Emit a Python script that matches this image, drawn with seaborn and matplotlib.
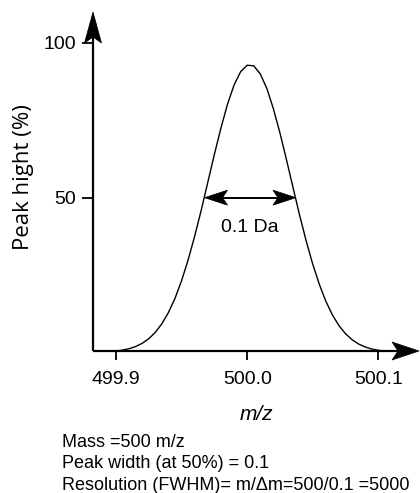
import numpy as np
import pandas as pd
import matplotlib
matplotlib.use("Agg")
import matplotlib.pyplot as plt
from matplotlib.patches import Polygon
import seaborn as sns

# ---- data ----
mz = [499.890, 499.895, 499.900, 499.905, 499.910, 499.915, 499.920, 499.925,
      499.930, 499.935, 499.940, 499.945, 499.950, 499.955, 499.960, 499.965,
      499.970, 499.975, 499.980, 499.985, 499.990, 499.995, 500.000, 500.005,
      500.010, 500.015, 500.020, 500.025, 500.030, 500.035, 500.040, 500.045,
      500.050, 500.055, 500.060, 500.065, 500.070, 500.075, 500.080, 500.085,
      500.090, 500.095, 500.100, 500.105, 500.110]
height = [0.15, 0.26, 0.44, 0.74, 1.20, 1.90, 2.94, 4.43,
          6.49, 9.27, 12.9, 17.5, 23.2, 29.9, 37.6, 46.0,
          55.0, 64.0, 72.5, 80.2, 86.4, 90.7, 92.8, 92.6,
          90.0, 85.3, 78.7, 70.9, 62.2, 53.2, 44.3, 36.0,
          28.5, 22.0, 16.5, 12.1, 8.65, 6.02, 4.09, 2.70,
          1.74, 1.09, 0.67, 0.40, 0.23]
x_ticks = [499.9, 500.0, 500.1]
x_tick_labels = ["499.9", "500.0", "500.1"]
y_ticks = [50, 100]
y_tick_labels = ["50", "100"]
fwhm_left, fwhm_right, fwhm_level = 499.9675, 500.0372, 50
fwhm_label = "0.1 Da"
x_label = "m/z"
y_label = "Peak hight (%)"
notes = ["Mass =500 m/z",
         "Peak width (at 50%) = 0.1",
         "Resolution (FWHM)= m/\u0394m=500/0.1 =5000"]

sns.set_style("white")
plt.rcParams['font.family'] = ['Liberation Sans', 'DejaVu Sans']
plt.rcParams['text.color'] = 'black'
plt.rcParams['axes.labelcolor'] = 'black'

W, H = 420, 493
fig = plt.figure(figsize=(W / 100, H / 100), dpi=100)
fig.patch.set_facecolor("white")

ax_l, ax_r, ax_t, ax_b = 93, 419, 12, 351
ax = fig.add_axes([ax_l / W, 1 - ax_b / H, (ax_r - ax_l) / W, (ax_b - ax_t) / H])
ax.set_facecolor("none")

df = pd.DataFrame({"mz": mz, "h": height})
sns.lineplot(data=df, x="mz", y="h", ax=ax, color="black", lw=1.0)

ax.set_xlim(499.88246, 500.1310)
ax.set_ylim(0.45, 110.0)
ax.set_xticks(x_ticks)
ax.set_xticklabels(x_tick_labels)
ax.set_yticks(y_ticks)
ax.set_yticklabels(y_tick_labels)
for s in ax.spines.values():
    s.set_visible(False)
ax.tick_params(axis="x", direction="out", length=6.5, width=1.3, pad=8,
               labelsize=14, bottom=True, colors="black")
ax.tick_params(axis="y", direction="out", length=8, width=1.3, pad=4,
               labelsize=14, left=True, colors="black")
ax.set_xlabel(x_label, fontsize=15, style="italic", labelpad=12, color="black")
ax.set_ylabel(y_label, fontsize=16, family=["Open Sans", "DejaVu Sans"],
              color="black")
ax.yaxis.set_label_coords(-0.181, 0.513)

# overlay in figure pixels for the axis arrows and annotation arrow
ov = fig.add_axes([0, 0, 1, 1])
ov.set_xlim(0, W)
ov.set_ylim(H, 0)
ov.axis("off")
ov.set_zorder(5)

def head(tip, direction, length, half, notch):
    tx, ty = tip
    dx, dy = direction
    px, py = -dy, dx
    bx, by = tx - dx * length, ty - dy * length
    nx, ny = tx - dx * (length - notch), ty - dy * (length - notch)
    return Polygon([(tx, ty), (bx + px * half, by + py * half), (nx, ny),
                    (bx - px * half, by - py * half)], closed=True,
                   facecolor="black", edgecolor="black", lw=0.5)

# y axis with arrow
ov.plot([ax_l, ax_l], [ax_b, ax_t + 20], color="black", lw=1.6, solid_capstyle="butt")
ov.add_patch(head((ax_l, ax_t), (0, -1), 31, 8.5, 6))
# x axis with arrow
ov.plot([ax_l, ax_r - 20], [ax_b, ax_b], color="black", lw=1.6, solid_capstyle="butt")
ov.add_patch(head((ax_r, ax_b), (1, 0), 27, 9, 6))

# FWHM double arrow
to_pix = lambda x, y: (ax.transData.transform((x, y))[0],
                       H - ax.transData.transform((x, y))[1])
fig.canvas.draw()
p1 = to_pix(fwhm_left, fwhm_level)
p2 = to_pix(fwhm_right, fwhm_level)
ov.plot([p1[0] + 10, p2[0] - 10], [p1[1], p2[1]], color="black", lw=1.4)
ov.add_patch(head(p1, (-1, 0), 23, 7.5, 5))
ov.add_patch(head(p2, (1, 0), 23, 7.5, 5))
ov.text((p1[0] + p2[0]) / 2, p1[1] + 30, fwhm_label, ha="center", va="center",
        fontsize=14, color="black")

for i, line in enumerate(notes):
    fig.text(61.5 / W, 1 - (447 + 21.5 * i) / H, line, ha="left", va="baseline",
             fontsize=13, color="black")

fig.savefig("out.png", dpi=100, facecolor="white")
